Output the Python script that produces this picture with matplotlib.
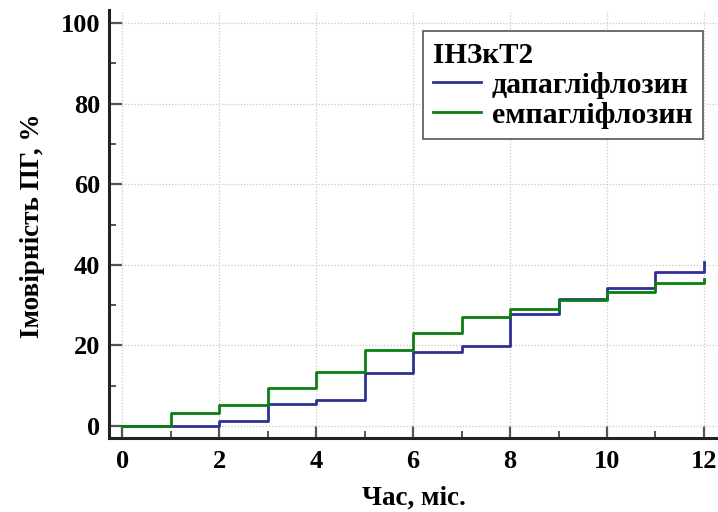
import numpy as np
import matplotlib.pyplot as plt
from matplotlib.ticker import MultipleLocator

plt.rcParams['font.family'] = ['Liberation Serif', 'DejaVu Serif']
plt.rcParams['font.weight'] = 'bold'

months = [0, 1, 2, 3, 4, 5, 6, 7, 8, 9, 10, 11, 12]
dapa = [0, 0, 1.3, 5.4, 6.5, 13.1, 18.4, 19.8, 27.8, 31.4, 34.2, 38.1, 40.8]
empa = [0, 3.1, 5.2, 9.3, 13.4, 18.9, 23.0, 27.0, 29.0, 31.3, 33.3, 35.6, 36.4]
labels = ['дапагліфлозин', 'емпагліфлозин']
legend_title = 'ІНЗкТ2'

fig = plt.figure(figsize=(7.18, 5.12), dpi=100)
ax = fig.add_axes([0.152, 0.1445, 0.848, 0.8355])

ax.plot(months, dapa, drawstyle='steps-post', color='#2e3192', lw=2.0, label=labels[0])
ax.plot(months, empa, drawstyle='steps-post', color='#0a8010', lw=2.0, label=labels[1])

ax.set_xlim(-0.27, 12.29)
ax.set_ylim(-3, 103.2)
ax.xaxis.set_major_locator(MultipleLocator(2))
ax.xaxis.set_minor_locator(MultipleLocator(1))
ax.yaxis.set_major_locator(MultipleLocator(20))
ax.yaxis.set_minor_locator(MultipleLocator(10))

ax.grid(True, which='major', color='#c8c8c8', linestyle=(0, (1, 1.5)), linewidth=0.9)
ax.set_axisbelow(True)

for s in ['top', 'right']:
    ax.spines[s].set_visible(False)
for s in ['left', 'bottom']:
    ax.spines[s].set_linewidth(2.2)
    ax.spines[s].set_color('#222222')

ax.tick_params(which='major', direction='in', length=9, width=1.6, color='#555555',
               labelsize=19)
ax.tick_params(axis='x', which='major', pad=8.5)
ax.tick_params(axis='y', which='major', pad=6.5)
ax.tick_params(which='minor', direction='in', length=5, width=1.4, color='#555555')

ax.set_xlabel('Час, міс.', fontsize=19.5, fontweight='bold')
ax.set_ylabel('Імовірність ПГ, %', fontsize=19.5, fontweight='bold')
ax.xaxis.set_label_coords(0.5, -0.112)
ax.yaxis.set_label_coords(-0.106, 0.497)

leg = ax.legend(title=legend_title, loc='upper right', bbox_to_anchor=(0.975, 0.951),
                borderaxespad=0, fontsize=21.5, title_fontsize=21, fancybox=False,
                framealpha=1, edgecolor='#555555', handlelength=1.6,
                handletextpad=0.35, borderpad=0.35, labelspacing=0.1)
leg.get_title().set_fontweight('bold')
leg._legend_box.align = 'left'
leg.get_frame().set_linewidth(1.2)

fig.savefig('out.png', dpi=100)
